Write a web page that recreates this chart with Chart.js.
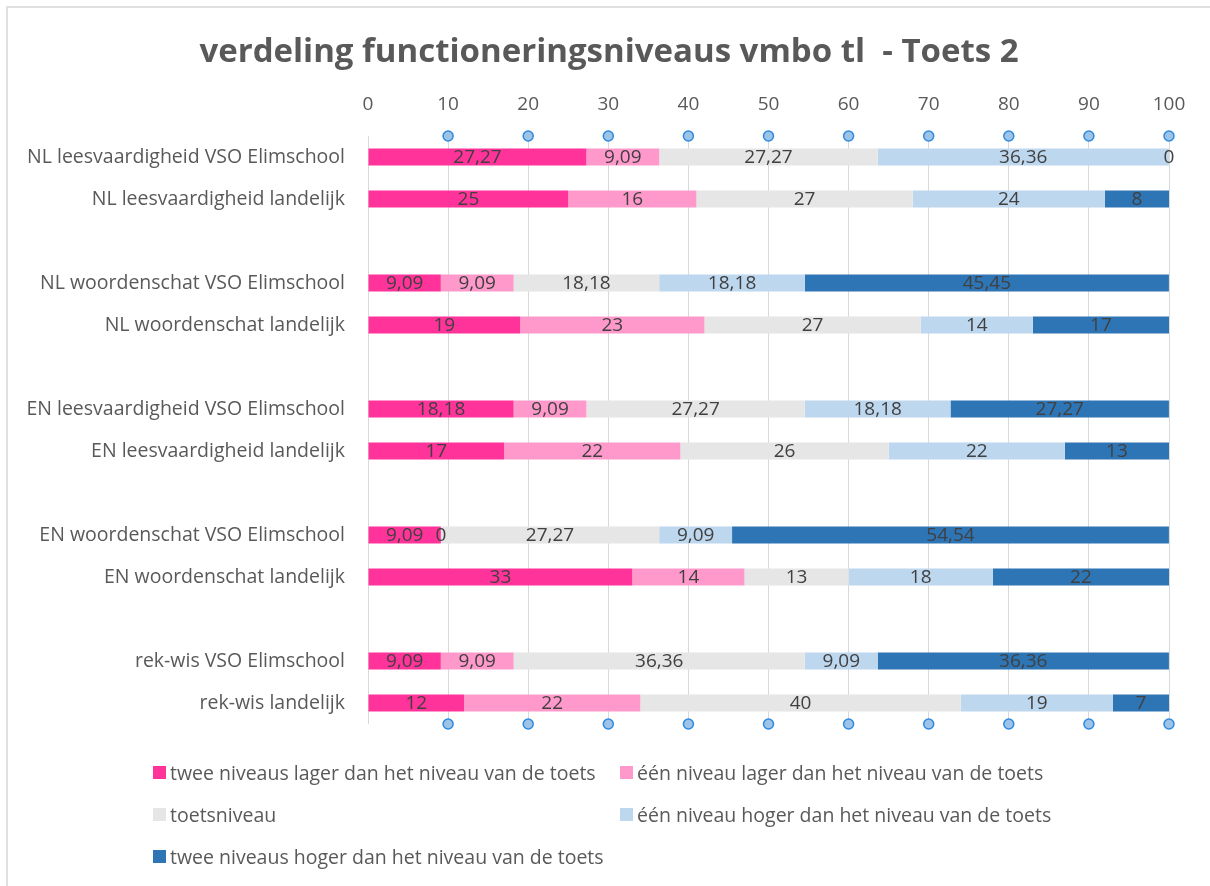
<!DOCTYPE html>
<html>
<head>
<meta charset="utf-8">
<script src="https://cdn.jsdelivr.net/npm/chart.js@4/dist/chart.umd.min.js"></script>
<style>
  html, body { margin: 0; padding: 0; background: #fff; }
  #wrap { position: relative; width: 1210px; height: 886px; overflow: hidden; }
  #frame { position: absolute; left: 6px; top: 6px; width: 1220px; height: 900px; border: 2px solid #e0e0e0; box-sizing: border-box; }
  #myChart { position: absolute; left: 0; top: 0; }
  #title { position: absolute; left: 0; top: 28px; width: 1218px; text-align: center;
           font-family: "Open Sans", sans-serif; font-weight: bold; font-size: 33px;
           line-height: 44px; color: #595959; white-space: pre; }
  #legend { position: absolute; left: 153px; top: 761px; width: 1000px;
            display: grid; grid-template-columns: 467px 467px; row-gap: 19px;
            font-family: "Open Sans", sans-serif; font-size: 19.5px; color: #595959; }
  #legend .item { display: flex; align-items: center; height: 23px; white-space: nowrap; }
  #legend .box { width: 13px; height: 13px; margin-right: 4px; flex: none; }
</style>
</head>
<body>
<div id="wrap">
  <div id="frame"></div>
  <canvas id="myChart" width="1210" height="886"></canvas>
  <div id="title"></div>
  <div id="legend"></div>
</div>
<script>
var chartTitle = 'verdeling functioneringsniveaus vmbo tl  - Toets 2';

var categories = [
    'NL leesvaardigheid VSO Elimschool', 'NL leesvaardigheid landelijk', '',
    'NL woordenschat VSO Elimschool', 'NL woordenschat landelijk', '',
    'EN leesvaardigheid VSO Elimschool', 'EN leesvaardigheid landelijk', '',
    'EN woordenschat VSO Elimschool', 'EN woordenschat landelijk', '',
    'rek-wis VSO Elimschool', 'rek-wis landelijk'
];

var seriesNames = [
    'twee niveaus lager dan het niveau van de toets',
    'één niveau lager dan het niveau van de toets',
    'toetsniveau',
    'één niveau hoger dan het niveau van de toets',
    'twee niveaus hoger dan het niveau van de toets'
];

var tweeLager = [27.27, 25, null, 9.09, 19, null, 18.18, 17, null, 9.09, 33, null, 9.09, 12];
var eenLager  = [9.09, 16, null, 9.09, 23, null, 9.09, 22, null, 0, 14, null, 9.09, 22];
var toets     = [27.27, 27, null, 18.18, 27, null, 27.27, 26, null, 27.27, 13, null, 36.36, 40];
var eenHoger  = [36.36, 24, null, 18.18, 14, null, 18.18, 22, null, 9.09, 18, null, 9.09, 19];
var tweeHoger = [0, 8, null, 45.45, 17, null, 27.27, 13, null, 54.54, 22, null, 36.36, 7];

var xTicks = [0, 10, 20, 30, 40, 50, 60, 70, 80, 90, 100];
var markerX = [10, 20, 30, 40, 50, 60, 70, 80, 90, 100];

var colors = ['#ff3399', '#ff99cc', '#e7e6e6', '#bdd7ee', '#2e75b6'];
var seriesValues = [tweeLager, eenLager, toets, eenHoger, tweeHoger];

var datasets = seriesValues.map(function (vals, i) {
    return {
        label: seriesNames[i],
        data: vals,
        backgroundColor: colors[i],
        borderWidth: 0,
        categoryPercentage: 1,
        barPercentage: 0.4
    };
});

// value labels in the middle of each bar segment
const barLabels = {
    id: 'barLabels',
    afterDatasetsDraw(chart) {
        const c = chart.ctx;
        c.save();
        c.font = '19px "Open Sans", sans-serif';
        c.fillStyle = '#404040';
        c.textAlign = 'center';
        c.textBaseline = 'middle';
        chart.data.datasets.forEach((ds, i) => {
            chart.getDatasetMeta(i).data.forEach((bar, j) => {
                const v = ds.data[j];
                if (v === null || v === undefined) return;
                const mid = (bar.x + bar.base) / 2;
                c.fillText(String(v).replace('.', ','), mid, bar.y + 1);
            });
        });
        c.restore();
    }
};

// little round markers along top and bottom of the plot
const edgeMarkers = {
    id: 'edgeMarkers',
    afterDatasetsDraw(chart) {
        const c = chart.ctx;
        const area = chart.chartArea;
        const xs = chart.scales.x;
        c.save();
        c.fillStyle = '#9dc3e6';
        c.strokeStyle = '#2e8ae0';
        c.lineWidth = 1.5;
        markerX.forEach(v => {
            const px = xs.getPixelForValue(v);
            [area.top, area.bottom].forEach(py => {
                c.beginPath();
                c.arc(px, py, 5, 0, Math.PI * 2);
                c.fill();
                c.stroke();
            });
        });
        c.restore();
    }
};

document.getElementById('title').textContent = chartTitle;

var ctx = document.getElementById('myChart').getContext('2d');
var myChart = new Chart(ctx, {
    type: 'bar',
    data: { labels: categories, datasets: datasets },
    options: {
        indexAxis: 'y',
        responsive: false,
        animation: false,
        layout: { padding: { left: 0, right: 41, top: 0, bottom: 162 } },
        plugins: {
            legend: { display: false },
            tooltip: { enabled: false }
        },
        scales: {
            x: {
                position: 'top',
                stacked: true,
                min: 0,
                max: 100,
                afterBuildTicks: function (scale) {
                    scale.ticks = xTicks.map(v => ({ value: v }));
                },
                afterFit: function (scale) { scale.height = 136; },
                grid: { color: '#d9d9d9', drawTicks: false },
                border: { display: false },
                ticks: {
                    color: '#595959',
                    padding: 20,
                    font: { family: '"Open Sans", sans-serif', size: 19 }
                }
            },
            y: {
                stacked: true,
                afterFit: function (scale) { scale.width = 368; },
                grid: { display: false, drawTicks: false },
                border: { display: false },
                ticks: {
                    color: '#595959',
                    padding: 23,
                    autoSkip: false,
                    font: { family: '"Open Sans", sans-serif', size: 19.5 }
                }
            }
        }
    },
    plugins: [barLabels, edgeMarkers]
});

// legend in two columns like the original
var legendEl = document.getElementById('legend');
seriesNames.forEach(function (name, i) {
    var item = document.createElement('div');
    item.className = 'item';
    item.innerHTML = '<span class="box" style="background:' + colors[i] + '"></span>' + name;
    legendEl.appendChild(item);
});
</script>
</body>
</html>
